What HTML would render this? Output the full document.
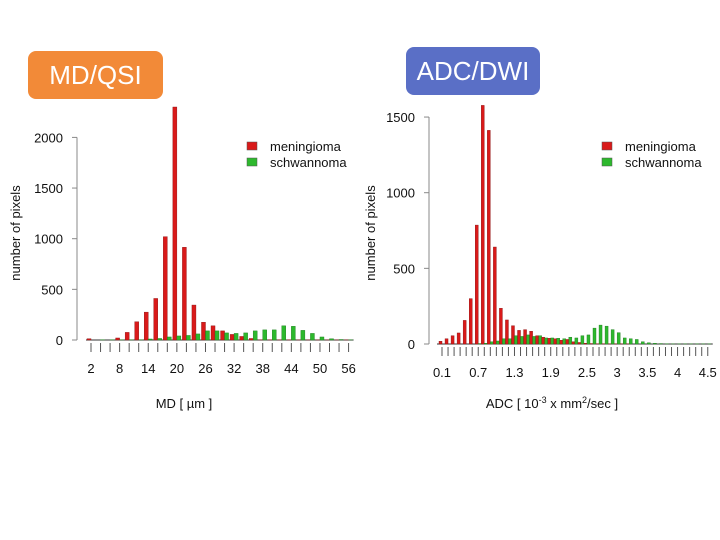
<!DOCTYPE html>
<html><head><meta charset="utf-8"><style>
body{margin:0;background:#fff;}
svg{display:block;font-family:"Liberation Sans",sans-serif;}
</style></head><body>
<svg width="720" height="540">
<rect x="28" y="51" width="135" height="48" rx="8" fill="#f28a38"/>
<text x="95.5" y="84" font-size="26" fill="#fff" text-anchor="middle">MD/QSI</text>
<rect x="406" y="47" width="134" height="48" rx="8" fill="#5a6fc6"/>
<text x="473" y="80" font-size="26" fill="#fff" text-anchor="middle">ADC/DWI</text>
<g id="c1"></g>
<g id="c2"></g>
</svg>
<script>
const mdCats=[2,4,6,8,10,12,14,16,18,20,22,24,26,28,30,32,34,36,38,40,42,44,46,48,50,52,54,56];
const mdMen=[13,0,0,20,75,180,275,410,1020,2300,915,345,175,140,90,55,35,15,3,2,2,2,1,1,1,1,1,1];
const mdSch=[0,2,2,2,2,3,10,15,30,40,45,60,90,90,70,65,70,90,100,100,140,135,95,65,30,12,5,3];
const mdYTicks=[0,500,1000,1500,2000];
const mdXLabels=[2,8,14,20,26,32,38,44,50,56];
const adcCats=[];for(let i=1;i<=45;i++)adcCats.push(+(i/10).toFixed(1));
const adcMen=[18,35,55,73,156,300,786,1577,1412,641,236,159,121,90,95,84,55,45,38,35,25,30,15,10,5,3,2,2,1,1,1,1,0,0,0,0,0,0,0,0,0,0,0,0,0];
const adcSch=[0,0,0,0,0,0,3,5,15,20,35,35,55,50,60,50,55,40,40,38,35,45,40,55,60,105,125,118,95,75,40,35,30,15,8,5,3,2,1,1,1,1,1,1,1];
const adcYTicks=[0,500,1000,1500];
const adcXLabels=[0.1,0.7,1.3,1.9,2.5,3,3.5,4,4.5];
const NS="http://www.w3.org/2000/svg";
function mk(p,t,a){const e=document.createElementNS(NS,t);for(const k in a)e.setAttribute(k,a[k]);p.appendChild(e);return e;}
function draw(g,o){
  const ys=v=>o.y0-v*o.ppu;
  const xs=c=>o.x0+(c-o.cats[0])/(o.cats[1]-o.cats[0])*o.step;
  const ax=mk(g,'line',{x1:o.ax,x2:o.ax,y1:ys(o.yt[o.yt.length-1]),y2:o.y0,stroke:'#888'});
  
  o.yt.forEach(v=>{
    const t=mk(g,'line',{x1:o.ax-5,x2:o.ax,y1:ys(v),y2:ys(v),stroke:'#888'});
    
    const l=mk(g,'text',{x:o.ax-14,y:ys(v)+5,'font-size':13,'text-anchor':'end',fill:'#111'});l.textContent=v;
    
  });
  const bl=mk(g,'line',{x1:xs(o.cats[0])-5,x2:xs(o.cats[o.cats.length-1])+5,y1:o.y0,y2:o.y0,stroke:'#333'});
  
  o.cats.forEach((c,i)=>{
    const x=xs(c);
    const t=mk(g,'line',{x1:x,x2:x,y1:o.y0+3,y2:o.y0+12,stroke:'#555'});
    
    const r=mk(g,'rect',{x:x-o.bw,y:ys(o.men[i]),width:o.bw,height:o.men[i]*o.ppu,fill:'#d91a1a',stroke:'#8a1010','stroke-width':0.4});
    
    const s=mk(g,'rect',{x:x,y:ys(o.sch[i]),width:o.bw,height:o.sch[i]*o.ppu,fill:'#2db82d',stroke:'#1a7a1a','stroke-width':0.4});
    
  });
  o.xl.forEach(v=>{
    const l=mk(g,'text',{x:xs(v),y:o.y0+33,'font-size':13,'text-anchor':'middle',fill:'#111'});l.textContent=v;
    
  });
  const xt=mk(g,'text',{x:o.xtx,y:o.xty,'font-size':13,'text-anchor':'middle',fill:'#111'});xt.innerHTML=o.xtitle;
  
  const yt=mk(g,'text',{x:0,y:0,'font-size':13,'text-anchor':'middle',fill:'#111',transform:`translate(${o.ytx},233) rotate(-90)`});yt.textContent='number of pixels';
  
  [['meningioma','#d91a1a',0],['schwannoma','#2db82d',16]].forEach(([n,c,dy])=>{
    const r=mk(g,'rect',{x:o.lx,y:o.ly+dy,width:10,height:8,fill:c,stroke:'#555','stroke-width':0.5});
    
    const t=mk(g,'text',{x:o.lx+23,y:o.ly+dy+9,'font-size':13,fill:'#111'});t.textContent=n;
    
  });
}
draw(document.getElementById('c1'),{cats:mdCats,men:mdMen,sch:mdSch,yt:mdYTicks,xl:mdXLabels,
  x0:91,step:9.54,y0:340,ppu:0.1013,ax:77,bw:4,xtitle:'MD [ µm ]',xtx:184,xty:408,ytx:20,lx:247,ly:142});
draw(document.getElementById('c2'),{cats:adcCats,men:adcMen,sch:adcSch,yt:adcYTicks,xl:adcXLabels,
  x0:442,step:6.04,y0:344,ppu:0.1513,ax:429,bw:3,xtitle:'ADC [ 10<tspan font-size="9" dy="-5">-3</tspan><tspan dy="5"> x mm</tspan><tspan font-size="9" dy="-5">2</tspan><tspan dy="5">/sec ]</tspan>',xtx:552,xty:408,ytx:375,lx:602,ly:142});
</script>
</body></html>
